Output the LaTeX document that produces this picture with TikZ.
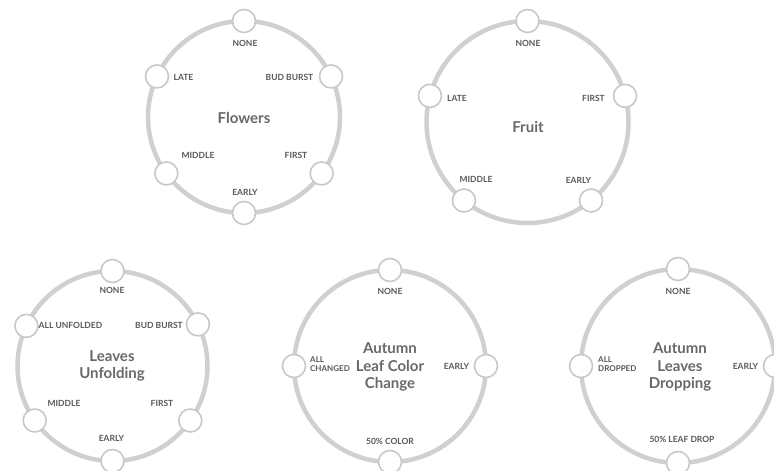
\documentclass[tikz,border=0pt]{standalone}
\usepackage{fontspec}
\setmainfont{Lato}
\usetikzlibrary{calc}
\definecolor{ringgray}{RGB}{208,208,208}
\definecolor{dotgray}{RGB}{200,200,200}
\definecolor{labelgray}{RGB}{88,88,88}
\definecolor{titlegray}{RGB}{105,105,105}
\tikzset{
  ringline/.style={draw=ringgray, line width=4.5pt},
  dotnode/.style={circle, draw=dotgray, fill=white, line width=1.6pt, minimum size=23pt, inner sep=0pt},
  lbl/.style={text=labelgray, font=\fontsize{8.5}{10}\selectfont\bfseries, inner sep=0pt},
  lbltwo/.style={text=labelgray, font=\fontsize{8}{9.5}\selectfont\bfseries, inner sep=0pt, align=left, anchor=west},
  ttl/.style={text=titlegray, font=\fontsize{15}{17.5}\selectfont\bfseries, inner sep=0pt, align=center}
}
\begin{document}
\begin{tikzpicture}[x=1pt,y=1pt]
\useasboundingbox[fill=white] (0,0) rectangle (774,-471);

% ---------- Flowers ----------
\coordinate (fc) at (244,-117);
\draw[ringline] (fc) circle (96);
\node[dotnode] (f1) at ($(fc)+(90:96)$) {};
\node[dotnode] (f2) at ($(fc)+(25:96)$) {};
\node[dotnode] (f3) at ($(fc)+(-36:96)$) {};
\node[dotnode] (f4) at ($(fc)+(-90:96)$) {};
\node[dotnode] (f5) at ($(fc)+(216:96)$) {};
\node[dotnode] (f6) at ($(fc)+(155:96)$) {};
\node[lbl] (fl1) at (245,-43) {NONE};
\node[lbl] (fl2) at (289.5,-77) {BUD BURST};
\node[lbl] (fl3) at (296,-155) {FIRST};
\node[lbl] (fl4) at (245,-192) {EARLY};
\node[lbl] (fl5) at (198,-155) {MIDDLE};
\node[lbl] (fl6) at (183.5,-77) {LATE};
\node[ttl] (ft) at (244,-118) {Flowers};

% ---------- Fruit ----------
\coordinate (rc) at (527.5,-122);
\draw[ringline] (rc) circle (101);
\node[dotnode] (r1) at ($(rc)+(90:101)$) {};
\node[dotnode] (r2) at ($(rc)+(15:101)$) {};
\node[dotnode] (r3) at ($(rc)+(-51:101)$) {};
\node[dotnode] (r4) at ($(rc)+(231:101)$) {};
\node[dotnode] (r5) at ($(rc)+(165:101)$) {};
\node[lbl] (rl1) at (528,-43) {NONE};
\node[lbl] (rl2) at (593.5,-98) {FIRST};
\node[lbl] (rl3) at (578.5,-180) {EARLY};
\node[lbl] (rl4) at (476,-179) {MIDDLE};
\node[lbl] (rl5) at (457,-98) {LATE};
\node[ttl] (rt) at (528,-127) {Fruit};

% ---------- Leaves Unfolding ----------
\coordinate (uc) at (112.5,-366);
\draw[ringline] (uc) circle (95);
\node[dotnode] (u1) at ($(uc)+(90:95)$) {};
\node[dotnode] (u2) at ($(uc)+(26:95)$) {};
\node[dotnode] (u3) at ($(uc)+(-35:95)$) {};
\node[dotnode] (u4) at ($(uc)+(-90:95)$) {};
\node[dotnode] (u5) at ($(uc)+(215:95)$) {};
\node[dotnode] (u6) at ($(uc)+(155:95)$) {};
\node[lbl] (ul1) at (112,-290) {NONE};
\node[lbl] (ul2) at (159,-325) {BUD BURST};
\node[lbl] (ul3) at (162,-403) {FIRST};
\node[lbl] (ul4) at (111.5,-438) {EARLY};
\node[lbl] (ul5) at (64,-403) {MIDDLE};
\node[lbl] (ul6) at (70.5,-325) {ALL UNFOLDED};
\node[ttl] (ut) at (112,-366) {Leaves\\Unfolding};

% ---------- Autumn Leaf Color Change ----------
\coordinate (cc) at (390,-366);
\draw[ringline] (cc) circle (96);
\node[dotnode] (c1) at ($(cc)+(90:96)$) {};
\node[dotnode] (c2) at ($(cc)+(0:96)$) {};
\node[dotnode] (c3) at ($(cc)+(-90:96)$) {};
\node[dotnode] (c4) at ($(cc)+(180:96)$) {};
\node[lbl] (cl1) at (390,-291) {NONE};
\node[lbl] (cl2) at (456.5,-366) {EARLY};
\node[lbl] (cl3) at (390,-441) {50\% COLOR};
\node[lbltwo] (cl4) at (310,-364) {ALL\\CHANGED};
\node[ttl] (ct) at (390,-367) {Autumn\\Leaf Color\\Change};

% ---------- Autumn Leaves Dropping ----------
\coordinate (dc) at (678,-366);
\draw[ringline] (dc) circle (97);
\node[dotnode] (d1) at ($(dc)+(90:97)$) {};
\node[dotnode] (d2) at ($(dc)+(0:97)$) {};
\node[dotnode] (d3) at ($(dc)+(-90:97)$) {};
\node[dotnode] (d4) at ($(dc)+(180:97)$) {};
\node[lbl] (dl1) at (678,-291) {NONE};
\node[lbl] (dl2) at (745.5,-366) {EARLY};
\node[lbl] (dl3) at (682,-439) {50\% LEAF DROP};
\node[lbltwo] (dl4) at (598,-364) {ALL\\DROPPED};
\node[ttl] (dt) at (680,-367) {Autumn\\Leaves\\Dropping};
\end{tikzpicture}
\end{document}
